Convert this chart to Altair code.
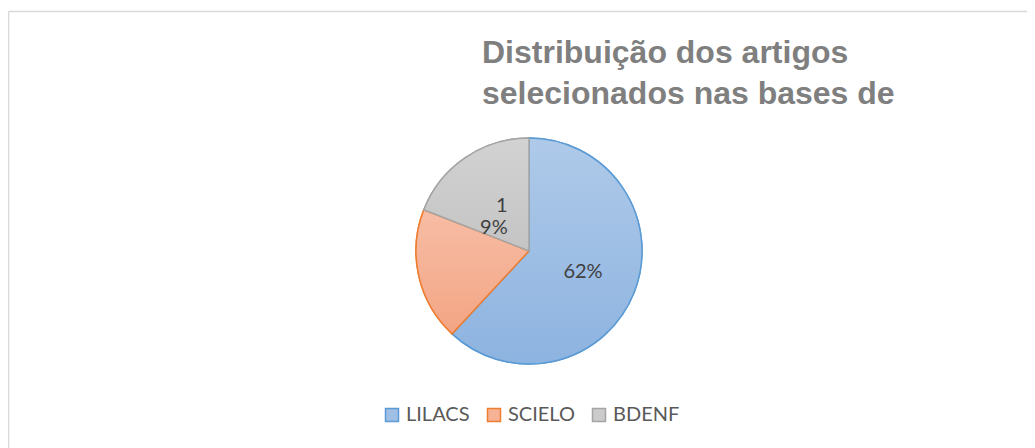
import altair as alt
import pandas as pd

# ---- data ----
bases = ["LILACS", "SCIELO", "BDENF"]
artigos = [13, 4, 4]
rotulos = ["62%", "", "1\n9%"]
title_lines = ["Distribuição dos artigos", "selecionados nas bases de"]

fills = ["#a0bfe4", "#f5b295", "#cbcbcb"]
fills_top = ["#afcae9", "#f7bda5", "#d2d2d2"]
fills_bottom = ["#8db3e0", "#f3a584", "#c4c4c4"]
strokes = ["#5b9bd5", "#ed7d31", "#a5a5a5"]

df = pd.DataFrame({"base": bases, "n": artigos, "rotulo": rotulos,
                   "ordem": list(range(len(bases)))})

W, H = 1019, 440
CX, CY = 521, 243
R = 113

leg = alt.Legend(
    title=None, orient="none", legendX=374, legendY=397, direction="horizontal",
    symbolType="square", symbolSize=169, symbolStrokeWidth=1.5,
    labelFont="Lato", labelFontSize=20, labelColor="#595959",
    labelOffset=4, columnPadding=14, padding=0,
)

pie = alt.Chart(df).mark_arc(outerRadius=R, strokeWidth=1.5).encode(
    theta=alt.Theta("n:Q", stack=True),
    order=alt.Order("ordem:Q"),
    fill=alt.Fill("base:N", scale=alt.Scale(domain=bases, range=fills), legend=leg),
    stroke=alt.Stroke("base:N", scale=alt.Scale(domain=bases, range=strokes), legend=leg),
    x=alt.value(CX), y=alt.value(CY),
)

cum_base = alt.Chart(df).transform_window(
    cum="sum(n)", sort=[alt.SortField("ordem")], frame=[None, 0]
).transform_calculate(start="datum.cum - datum.n", mid="datum.cum - datum.n / 2")

slices = []
for b, ft, fb, sc in zip(bases, fills_top, fills_bottom, strokes):
    grad = alt.LinearGradient(
        gradient="linear", x1=0, x2=0, y1=0, y2=1,
        stops=[alt.GradientStop(offset=0, color=ft), alt.GradientStop(offset=1, color=fb)],
    )
    slices.append(
        cum_base.transform_filter(f"datum.base == '{b}'").mark_arc(
            outerRadius=R, strokeWidth=1.5, fill=grad, stroke=sc
        ).encode(
            theta=alt.Theta("start:Q", stack=False), theta2="cum:Q",
            x=alt.value(CX), y=alt.value(CY),
        )
    )

lab1 = cum_base.transform_filter("datum.base == 'LILACS'").mark_text(
    radius=58, font="Lato", fontSize=20, color="#404040", baseline="middle"
).encode(
    theta=alt.Theta("mid:Q", stack=False), text="rotulo:N",
    x=alt.value(CX), y=alt.value(CY),
)

lab2 = cum_base.transform_filter("datum.base == 'BDENF'").mark_text(
    radius=52, font="Lato", fontSize=20, color="#404040", baseline="middle",
    align="right", dx=8, dy=-2, lineBreak="\n", lineHeight=22,
).encode(
    theta=alt.Theta("mid:Q", stack=False), text="rotulo:N",
    x=alt.value(CX), y=alt.value(CY),
)

tdf = pd.DataFrame({"t": ["\n".join(title_lines)]})
title = alt.Chart(tdf).mark_text(
    align="left", baseline="alphabetic", font="Liberation Sans", fontWeight="bold",
    fontSize=32, color="#7f7f7f", lineBreak="\n", lineHeight=41,
).encode(text="t:N", x=alt.value(474), y=alt.value(55))

one = pd.DataFrame({"k": [0]})
vline = alt.Chart(one).mark_rule(color="#d9d9d9", strokeWidth=1.5).encode(
    x=alt.value(0.5), y=alt.value(3.5), y2=alt.value(H))
hline = alt.Chart(one).mark_rule(color="#d9d9d9", strokeWidth=1.5).encode(
    x=alt.value(0.5), x2=alt.value(W), y=alt.value(3.5))

chart = alt.layer(vline, hline, pie, *slices, lab1, lab2, title).properties(
    width=W, height=H, padding=0,
    autosize=alt.AutoSizeParams(type="none"),
    background="white",
).configure_view(strokeWidth=0)

chart.save("out.html", embed_options={"renderer": "svg", "actions": False})
